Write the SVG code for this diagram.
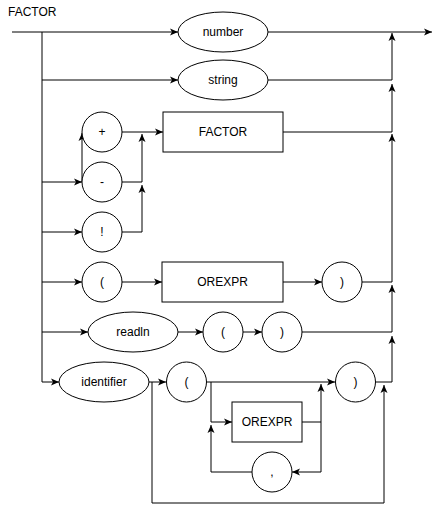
<svg xmlns="http://www.w3.org/2000/svg" width="442" height="520" viewBox="0 0 442 520">
<style>
.s{fill:#fff;stroke:#000;stroke-width:1}
.t{font-family:"Liberation Sans",Arial,Helvetica,sans-serif;font-size:12px;fill:#000;text-anchor:middle}
.e{fill:none;stroke:#000;stroke-width:1;marker-end:url(#a)}
.l{fill:none;stroke:#000;stroke-width:1}
</style>
<defs>
<marker id="a" markerUnits="userSpaceOnUse" markerWidth="8" markerHeight="8" viewBox="0 0 8 8" refX="8" refY="4" orient="auto">
<path d="M0,0.5 L8,4 L0,7.5 L2,4 Z" fill="#000"/>
</marker>
</defs>
<rect width="442" height="520" fill="#fff"/>
<text x="8" y="16" style="font-family:'Liberation Sans',Arial,sans-serif;font-size:12px">FACTOR</text>
<g id="connectors">
<path class="e" d="M12,32 H178"/>
<path class="e" d="M268,32 H432"/>
<path class="e" d="M42,32 V382 H59"/>
<path class="e" d="M42,80 H178"/>
<path class="e" d="M268,80 H392 V33"/>
<path class="e" d="M283,132 H392 V84"/>
<path class="e" d="M362,282 H392 V134"/>
<path class="e" d="M302,332 H392 V285"/>
<path class="e" d="M376,382 H392 V336"/>
<path class="e" d="M42,182 H82"/>
<path class="e" d="M82,182 V133"/>
<path class="e" d="M42,232 H82"/>
<path class="e" d="M122,132 H163"/>
<path class="e" d="M122,182 H142 V134"/>
<path class="e" d="M122,232 H142 V185"/>
<path class="e" d="M42,282 H82"/>
<path class="e" d="M122,282 H162"/>
<path class="e" d="M283,282 H322"/>
<path class="e" d="M42,332 H88"/>
<path class="e" d="M178,332 H203"/>
<path class="e" d="M243,332 H262"/>
<path class="e" d="M149,382 H166"/>
<path class="e" d="M152,382 V503 H384 V385"/>
<path class="e" d="M207,382 H335"/>
<path class="e" d="M211,382 V422 H232"/>
<path class="e" d="M302,422 H321 V384"/>
<path class="e" d="M321,422 V472 H292"/>
<path class="e" d="M252,472 H211 V425"/>
</g>
<g id="number"><ellipse class="s" cx="223" cy="32" rx="45" ry="20"/><text class="t" x="223" y="36">number</text></g>
<g id="string"><ellipse class="s" cx="223" cy="80" rx="45" ry="20"/><text class="t" x="223" y="84">string</text></g>
<g id="plus"><circle class="s" cx="102" cy="132" r="20"/><text class="t" x="102" y="136">+</text></g>
<g id="minus"><circle class="s" cx="102" cy="182" r="20"/><text class="t" x="102" y="186">-</text></g>
<g id="not"><circle class="s" cx="102" cy="232" r="20"/><text class="t" x="102" y="236">!</text></g>
<g id="factor"><rect class="s" x="163" y="112" width="120" height="40"/><text class="t" x="223" y="136">FACTOR</text></g>
<g id="lparen1"><circle class="s" cx="102" cy="282" r="20"/><text class="t" x="102" y="286">(</text></g>
<g id="orexpr1"><rect class="s" x="162" y="262" width="121" height="40"/><text class="t" x="222.5" y="286">OREXPR</text></g>
<g id="rparen1"><circle class="s" cx="342" cy="282" r="20"/><text class="t" x="342" y="286">)</text></g>
<g id="readln"><ellipse class="s" cx="133" cy="332" rx="45" ry="20"/><text class="t" x="133" y="336">readln</text></g>
<g id="lparen2"><circle class="s" cx="223" cy="332" r="20"/><text class="t" x="223" y="336">(</text></g>
<g id="rparen2"><circle class="s" cx="282" cy="332" r="20"/><text class="t" x="282" y="336">)</text></g>
<g id="identifier"><ellipse class="s" cx="104" cy="382" rx="45" ry="20"/><text class="t" x="104" y="386">identifier</text></g>
<g id="lparen3"><circle class="s" cx="186.5" cy="382" r="20"/><text class="t" x="186.5" y="386">(</text></g>
<g id="rparen3"><circle class="s" cx="355.5" cy="382" r="20"/><text class="t" x="355.5" y="386">)</text></g>
<g id="orexpr2"><rect class="s" x="232" y="402" width="70" height="40"/><text class="t" x="267" y="426">OREXPR</text></g>
<g id="comma"><circle class="s" cx="272" cy="472" r="20"/><text class="t" x="272" y="476">,</text></g>
</svg>
